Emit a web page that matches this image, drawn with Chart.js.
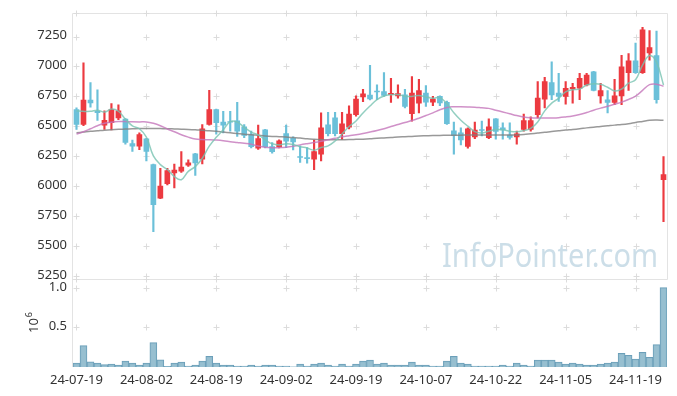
<!DOCTYPE html>
<html><head><meta charset="utf-8">
<script src="https://cdn.jsdelivr.net/npm/chart.js@4.4.1/dist/chart.umd.min.js"></script>
<style>html,body{margin:0;padding:0;background:#fff;}</style>
</head><body>
<canvas id="c" width="677" height="396"></canvas>
<script>
const dates = ['24-07-19','24-07-22','24-07-23','24-07-24','24-07-25','24-07-26','24-07-29','24-07-30','24-07-31','24-08-01',
'24-08-02','24-08-05','24-08-06','24-08-07','24-08-08','24-08-09','24-08-12','24-08-13','24-08-14','24-08-16',
'24-08-19','24-08-20','24-08-21','24-08-22','24-08-23','24-08-26','24-08-27','24-08-28','24-08-29','24-08-30',
'24-09-02','24-09-03','24-09-04','24-09-05','24-09-06','24-09-09','24-09-10','24-09-11','24-09-12','24-09-13',
'24-09-19','24-09-20','24-09-23','24-09-24','24-09-25','24-09-26','24-09-27','24-09-30','24-10-02','24-10-04',
'24-10-07','24-10-08','24-10-10','24-10-11','24-10-14','24-10-15','24-10-16','24-10-17','24-10-18','24-10-21',
'24-10-22','24-10-23','24-10-24','24-10-25','24-10-28','24-10-29','24-10-30','24-10-31','24-11-01','24-11-04',
'24-11-05','24-11-06','24-11-07','24-11-08','24-11-11','24-11-12','24-11-13','24-11-14','24-11-15','24-11-18',
'24-11-19','24-11-20','24-11-21','24-11-22','24-11-25'];

const open  = [6640,6515,6720,6625,6510,6530,6570,6560,6355,6335, 6395,6180,5900,6020,6110,6125,6175,6270,6225,6515,
               6640,6535,6540,6545,6495,6430,6317,6470,6330,6328, 6440,6400,6248,6238,6226,6267,6512,6570,6438,6493,
               6598,6746,6760,6795,6791,6765,6755,6763,6606,6694, 6777,6702,6750,6700,6463,6446,6333,6411,6472,6405,
               6562,6488,6427,6411,6474,6474,6598,6727,6865,6777, 6749,6812,6818,6846,6956,6755,6722,6700,6755,6948,
               7047,6948,7113,7090,6055];
const high  = [6655,7030,6865,6805,6630,6690,6680,6565,6385,6445, 6400,6185,6150,6150,6185,6290,6220,6275,6515,6800,
               6645,6625,6625,6700,6515,6460,6510,6475,6365,6388, 6510,6413,6336,6322,6386,6612,6617,6617,6617,6672,
               6755,6810,7010,6846,6948,6900,6846,6810,6915,6893, 6840,6750,6755,6710,6535,6488,6488,6535,6543,6562,
               6565,6529,6529,6460,6603,6579,6873,6909,7039,6942, 6873,6860,6942,6942,6960,6860,6799,6893,7094,7107,
               7196,7328,7300,7295,6248];
const low   = [6475,6505,6660,6550,6475,6470,6555,6350,6290,6305, 6210,5620,5895,6010,5985,6115,6165,6090,6185,6510,
               6435,6445,6460,6415,6405,6320,6308,6320,6275,6320, 6322,6303,6198,6193,6138,6212,6419,6419,6391,6479,
               6584,6705,6720,6722,6750,6700,6736,6653,6543,6612, 6667,6672,6672,6515,6267,6345,6317,6397,6419,6397,
               6392,6392,6392,6350,6460,6460,6570,6653,6722,6708, 6686,6694,6722,6838,6795,6694,6612,6680,6680,6799,
               6942,6942,7052,6694,5703];
const close = [6515,6720,6695,6615,6550,6640,6630,6365,6335,6430, 6290,5845,6000,6130,6135,6160,6195,6195,6480,6640,
               6530,6510,6535,6460,6425,6330,6397,6330,6288,6378, 6375,6370,6240,6230,6289,6488,6438,6438,6521,6603,
               6727,6771,6728,6788,6758,6775,6774,6667,6777,6799, 6702,6727,6695,6523,6424,6386,6479,6469,6466,6496,
               6457,6469,6408,6438,6548,6548,6736,6873,6763,6749, 6818,6826,6901,6929,6799,6799,6700,6755,6997,7047,
               6948,7306,7157,6722,6097];
const volume = [49000,271000,66000,49000,29000,37000,25000,74000,49000,25000, 49000,308000,90000,8000,49000,62000,12000,25000,74000,135000,
               49000,25000,25000,12000,12000,25000,12000,25000,25000,12000, 12000,3000,37000,12000,37000,49000,25000,12000,37000,12000,
               37000,74000,86000,37000,49000,25000,25000,25000,62000,25000, 25000,12000,12000,74000,135000,49000,37000,12000,12000,12000,
               12000,25000,12000,49000,25000,12000,86000,86000,86000,62000, 37000,49000,37000,25000,25000,37000,49000,62000,172000,148000,
               99000,185000,123000,283000,1002000];
const ma5  = [6631,6625,6625,6635,6619,6644,6626,6560,6504,6480, 6410,6253,6180,6139,6080,6054,6124,6163,6233,6334,
              6408,6471,6539,6535,6492,6452,6429,6388,6354,6345, 6354,6348,6330,6319,6301,6323,6337,6377,6435,6498,
              6545,6612,6670,6723,6754,6764,6765,6752,6750,6758, 6744,6734,6740,6689,6614,6551,6501,6456,6445,6459,
              6473,6471,6459,6454,6464,6482,6536,6629,6694,6734, 6788,6806,6811,6845,6855,6851,6826,6796,6810,6860,
              6889,7011,7091,7036,6846];
const ma20 = [6435,6455,6480,6505,6525,6535,6540,6540,6538,6537, 6537,6525,6505,6478,6455,6430,6410,6395,6390,6388,
              6385,6380,6372,6365,6358,6350,6335,6325,6322,6322, 6325,6333,6345,6355,6364,6375,6388,6400,6413,6422,
              6430,6440,6452,6465,6480,6498,6515,6532,6548,6568, 6590,6612,6638,6658,6663,6663,6662,6660,6655,6650,
              6635,6620,6605,6590,6578,6572,6570,6570,6570,6572, 6578,6586,6598,6615,6635,6652,6668,6685,6702,6725,
              6752,6800,6848,6852,6834];
const ma60 = [6446,6452,6458,6463,6468,6472,6475,6477,6479,6481, 6482,6482,6481,6480,6478,6476,6474,6471,6467,6463,
              6458,6452,6446,6440,6434,6430,6425,6420,6416,6413, 6410,6406,6402,6396,6392,6389,6387,6387,6388,6389,
              6391,6393,6396,6400,6403,6406,6410,6413,6416,6419, 6421,6423,6424,6425,6426,6426,6427,6427,6427,6427,
              6427,6427,6427,6428,6432,6438,6444,6450,6457,6463, 6469,6474,6480,6487,6493,6498,6504,6510,6515,6522,
              6532,6541,6550,6552,6551];
const priceTicks = [5250,5500,5750,6000,6250,6500,6750,7000,7250];
const volumeTicks = [500000,1000000];

const colUp = '#ec3a40', colDown = '#6bc0d9';
const candleColors = close.map((c,i)=> c >= open[i] ? colUp : colDown);
const bodies = open.map((o,i)=>[o, close[i]]);
const wicks = low.map((l,i)=>[l, high[i]]);
const FONT = 'Noto Sans';

const framePlugin = {
  id:'frame',
  beforeDatasetsDraw(chart){
    const {ctx, chartArea:a, scales} = chart;
    const x = scales.x, y = scales.y, yv = scales.yv;
    ctx.save();
    ctx.font = '33px "' + FONT + '"';
    const txt = 'InfoPointer.com';
    const w = ctx.measureText(txt).width;
    ctx.translate(442, 267);
    ctx.scale(216 / w, 1);
    ctx.fillStyle = 'rgba(172,202,218,0.62)';
    ctx.textBaseline = 'alphabetic';
    ctx.fillText(txt, 0, 0);
    ctx.restore();
    ctx.save();
    ctx.strokeStyle = '#e3e3e3'; ctx.lineWidth = 1;
    const L = Math.round(a.left)-0.5, R = Math.round(a.right)+0.5, T = Math.round(y.top)-0.5, M = Math.round(y.bottom)+0.5, B = Math.round(a.bottom);
    ctx.beginPath();
    ctx.moveTo(L, T); ctx.lineTo(R, T); ctx.lineTo(R, M);
    ctx.moveTo(L, T); ctx.lineTo(L, B);
    ctx.moveTo(L, M); ctx.lineTo(R, M);
    ctx.stroke();
    const xs = [];
    for (let i = 0; i < dates.length; i += 10) xs.push(Math.round(x.getPixelForValue(i)) + 0.5);
    const ys = priceTicks.map(v => Math.round(y.getPixelForValue(v)) + 0.5)
      .concat(volumeTicks.map(v => Math.round(yv.getPixelForValue(v)) + 0.5));
    ys.push(T, M);
    ctx.strokeStyle = '#dcdcdc';
    ctx.beginPath();
    xs.forEach(px => ys.forEach(py => {
      ctx.moveTo(px - 3, py); ctx.lineTo(px + 3, py);
      ctx.moveTo(px, py - 3); ctx.lineTo(px, py + 3);
    }));
    ctx.stroke();
    ctx.restore();
  },
  afterDraw(chart){
    const ctx = chart.ctx;
    ctx.save();
    ctx.fillStyle = '#333';
    ctx.translate(38, 333);
    ctx.rotate(-Math.PI/2);
    ctx.font = '13px "' + FONT + '"';
    ctx.textBaseline = 'alphabetic';
    ctx.fillText('10', 0, 0);
    const w = ctx.measureText('10').width;
    ctx.font = '9px "' + FONT + '"';
    ctx.fillText('6', w + 1, -6);
    ctx.restore();
  }
};

const tickFont = {family: FONT, size: 13};
new Chart(document.getElementById('c'), {
  data: {
    labels: dates,
    datasets: [
      {type:'line', data: ma5, yAxisID:'y', borderColor:'rgba(120,195,178,0.8)', borderWidth:1.5, pointRadius:0, tension:0.4, order:0},
      {type:'line', data: ma20, yAxisID:'y', borderColor:'rgba(196,118,186,0.8)', borderWidth:1.5, pointRadius:0, tension:0.4, order:0},
      {type:'line', data: ma60, yAxisID:'y', borderColor:'rgba(128,128,128,0.8)', borderWidth:1.5, pointRadius:0, tension:0.4, order:0},
      {type:'bar', data: bodies, yAxisID:'y', backgroundColor: candleColors, barThickness:5, grouped:false, order:1},
      {type:'bar', data: wicks, yAxisID:'y', backgroundColor: candleColors, barThickness:1.5, grouped:false, order:2},
      {type:'bar', data: volume, yAxisID:'yv', backgroundColor:'rgba(145,188,206,0.95)', borderColor:'#6b9fb9', borderWidth:1,
       barPercentage:1, categoryPercentage:1, grouped:false, order:3}
    ]
  },
  options: {
    responsive:false, animation:false, devicePixelRatio:1,
    layout:{padding:{top:10, right:10, left:0, bottom:0}},
    plugins:{legend:{display:false}, tooltip:{enabled:false}},
    scales:{
      x:{type:'category', offset:true, grid:{display:false, drawTicks:false}, border:{display:false},
         ticks:{autoSkip:false, maxRotation:0, minRotation:0, padding:5, color:'#333', font:tickFont,
                callback:(v,i)=> i % 10 === 0 ? dates[i] : null},
         afterFit:s=>{s.height = 29;}},
      yv:{position:'left', stack:'s', stackWeight:89, min:0, max:1112500,
         grid:{display:false, drawTicks:false}, border:{display:false},
         ticks:{autoSkip:false, padding:6, labelOffset:-1, color:'#333', font:tickFont, callback:v=>(v/1e6).toFixed(1)},
         afterBuildTicks:s=>{s.ticks = volumeTicks.map(v=>({value:v}));},
         afterFit:s=>{s.width = 73;}},
      y:{position:'left', stack:'s', stackWeight:268, min:5225, max:7440,
         grid:{display:false, drawTicks:false}, border:{display:false},
         ticks:{autoSkip:false, padding:6, labelOffset:-1, color:'#333', font:tickFont, callback:v=>String(v)},
         afterBuildTicks:s=>{s.ticks = priceTicks.map(v=>({value:v}));},
         afterFit:s=>{s.width = 73;}}
    }
  },
  plugins:[framePlugin]
});
</script>
</body></html>
